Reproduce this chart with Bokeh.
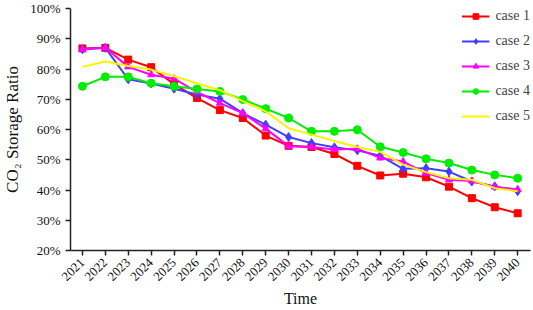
import math
from bokeh.plotting import figure
from bokeh.models import FixedTicker, Range1d, Legend, LegendItem, CustomJSTickFormatter
from bokeh.embed import file_html
from bokeh.resources import INLINE

years = list(range(2021, 2041))
case1 = [86.8, 87.0, 83.1, 80.6, 75.0, 70.4, 66.4, 63.8, 58.0, 54.6, 54.2, 51.9, 48.0, 44.8, 45.4, 44.2, 41.1, 37.3, 34.3, 32.3]
case2 = [86.5, 87.0, 76.6, 75.2, 73.5, 71.6, 70.2, 65.4, 61.6, 57.5, 55.5, 54.1, 53.1, 51.3, 47.0, 47.2, 46.1, 42.8, 41.2, 39.6]
case3 = [86.5, 87.0, 80.7, 78.1, 76.8, 72.4, 68.7, 65.4, 60.3, 54.5, 54.2, 53.4, 53.6, 50.6, 49.4, 45.6, 43.4, 43.0, 41.0, 40.2]
case4 = [74.3, 77.4, 77.4, 75.3, 74.3, 73.4, 72.6, 69.9, 66.9, 63.8, 59.4, 59.4, 59.9, 54.3, 52.4, 50.3, 48.9, 46.6, 45.0, 43.9]
case5 = [80.7, 82.5, 81.0, 79.8, 77.6, 75.3, 73.0, 69.4, 66.0, 60.4, 58.3, 56.2, 54.2, 52.6, 48.4, 45.9, 43.9, 43.4, 40.6, 39.6]
y_ticks = [20, 30, 40, 50, 60, 70, 80, 90, 100]
names = ["case 1", "case 2", "case 3", "case 4", "case 5"]

FONT = "Liberation Serif"

p = figure(width=533, height=310, output_backend="svg", toolbar_location=None,
           x_range=Range1d(2020.48, 2040.56), y_range=Range1d(20, 100),
           min_border_left=62, min_border_right=3, min_border_top=8, min_border_bottom=60)
p.outline_line_color = None
p.xgrid.visible = False
p.ygrid.visible = False
p.background_fill_color = "white"
p.border_fill_color = "white"

series = [case1, case2, case3, case4, case5]
colors = ["#FF0000", "#3F3FFF", "#FF00FF", "#00EE00", "#F5F500"]
markers = ["square", "diamond", "triangle", "circle", None]
sizes = [7, 9, 7, 8, 0]

items = []
for name, vals, col, mk, sz in zip(names, series, colors, markers, sizes):
    r_line = p.line(years, vals, line_color=col, line_width=2)
    rs = [r_line]
    if mk:
        r_m = p.scatter(years, vals, marker=mk, size=sz, fill_color=col, line_color=col)
        rs.append(r_m)
    items.append(LegendItem(label=name, renderers=rs))

legend = Legend(items=items, location="top_right", border_line_color=None,
                background_fill_alpha=0.0, label_text_font=FONT, label_text_font_size="14px",
                glyph_width=28, glyph_height=14, spacing=9, padding=0, margin=0,
                label_standoff=6)
p.add_layout(legend)

p.xaxis.ticker = FixedTicker(ticks=years)
p.xaxis.major_label_orientation = math.pi / 4
p.xaxis.major_label_text_font = FONT
p.xaxis.major_label_text_font_size = "13px"
p.xaxis.axis_label = "Time"
p.xaxis.axis_label_text_font = FONT
p.xaxis.axis_label_text_font_style = "normal"
p.xaxis.axis_label_text_font_size = "16px"
p.xaxis.axis_label_standoff = 2

p.yaxis.ticker = FixedTicker(ticks=y_ticks)
p.yaxis.formatter = CustomJSTickFormatter(code="return tick.toFixed(0) + '%';")
p.yaxis.major_label_text_font = FONT
p.yaxis.major_label_text_font_size = "13px"
p.yaxis.axis_label = "CO\u2082 Storage Ratio"
p.yaxis.axis_label_text_font = FONT
p.yaxis.axis_label_text_font_style = "normal"
p.yaxis.axis_label_text_font_size = "17px"
p.yaxis.axis_label_standoff = 5

for ax in (p.xaxis, p.yaxis):
    ax.axis_line_color = "#222222"
    ax.axis_line_width = 1.5
    ax.major_tick_line_color = "#222222"
    ax.major_tick_line_width = 1.5
    ax.major_tick_in = 0
    ax.major_tick_out = 5
    ax.minor_tick_line_color = None
    ax.major_label_text_color = "#111111"
    ax.axis_label_text_color = "#111111"

open("out.html", "w").write(file_html(p, INLINE))
